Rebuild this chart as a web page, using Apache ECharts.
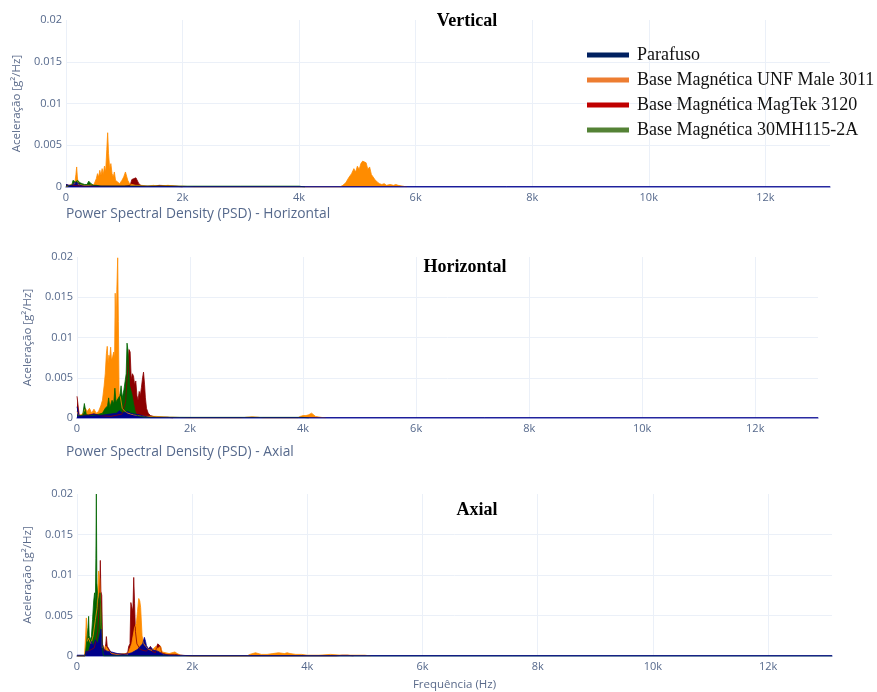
<!DOCTYPE html>
<html><head><meta charset="utf-8">
<script src="https://cdn.jsdelivr.net/npm/echarts@6/dist/echarts.min.js"></script>
<style>html,body{margin:0;padding:0;background:#fff}#c{width:877px;height:692px}</style>
</head><body><div id="c"></div>
<script>
// ---------- data (frequency Hz, PSD g²/Hz) ----------
const seriesNames = ['Parafuso', 'Base Magnética UNF Male 3011', 'Base Magnética MagTek 3120', 'Base Magnética 30MH115-2A'];
const panelTitles = ['Vertical', 'Horizontal', 'Axial'];
const sectionTitles = ['Power Spectral Density (PSD) - Horizontal', 'Power Spectral Density (PSD) - Axial'];
const xTicks = [0, 2000, 4000, 6000, 8000, 10000, 12000];
const yTicks = [0, 0.005, 0.01, 0.015, 0.02];

// Vertical
const vRed = [[0,0.0003],[40,0.0002],[100,0.0002],[300,0.0001],[600,0.0001],[1000,0.0001],[1100,0.0002],[1130,0.0009],[1160,0.0011],[1200,0.0011],[1230,0.001],[1250,0.0004],[1300,0.0001],[1500,0.0001],[1600,0.0002],[1900,0.0001],[2000,0]];
const vOrange = [[0,0],[80,0.0003],[150,0.0004],[170,0.0015],[183,0.0024],[195,0.0012],[210,0.0003],[300,0.0002],[400,0.0002],[480,0.0003],[520,0.001],[540,0.0016],[560,0.0012],[580,0.002],[600,0.0014],[620,0.0022],[640,0.0015],[660,0.0025],[680,0.0018],[700,0.0045],[715,0.0065],[730,0.004],[750,0.0022],[770,0.0028],[790,0.0016],[810,0.0012],[830,0.0018],[850,0.0008],[880,0.0006],[920,0.0004],[960,0.0008],[990,0.0012],[1020,0.0018],[1040,0.0013],[1060,0.0008],[1090,0.0004],[1130,0.0003],[1200,0.0002],[1300,0.0002],[1400,0.0001],[1500,0.0002],[1600,0.0001],[1750,0.0002],[1900,0.0001],[2000,0.0001],[2200,0],[4700,0],[4750,0.0002],[4800,0.0005],[4850,0.0011],[4900,0.0016],[4940,0.0022],[4970,0.0018],[5000,0.0025],[5030,0.0021],[5060,0.0028],[5090,0.0031],[5120,0.0032],[5150,0.0029],[5180,0.0021],[5210,0.0024],[5240,0.0015],[5270,0.0012],[5300,0.0009],[5340,0.0006],[5380,0.0004],[5420,0.0003],[5460,0.0004],[5500,0.0002],[5560,0.0003],[5620,0.0002],[5660,0.0003],[5700,0.0002],[5780,0.0001],[5850,0]];
const vGreen = [[0,0.0001],[100,0.0002],[120,0.0008],[140,0.0009],[160,0.0006],[200,0.0008],[240,0.0005],[280,0.0004],[320,0.0003],[360,0.0003],[390,0.0007],[410,0.0009],[430,0.0004],[470,0.0002],[520,0.0002],[600,0.0001],[1000,0.0001],[2000,0.0001],[3000,0.0001],[4000,0.0001],[4100,0]];
const vBlue = [[0,0.0003],[60,0.0002],[110,0.0002],[140,0.0005],[170,0.0004],[200,0.0005],[240,0.0002],[300,0.0001],[2000,0.00005],[13110,0.00005]];

// Horizontal
const hRed = [[0,0.0027],[20,0.0027],[40,0.0003],[200,0.0004],[300,0.0005],[400,0.0003],[600,0.0002],[800,0.0005],[860,0.002],[900,0.0065],[920,0.0085],[940,0.0082],[960,0.0048],[980,0.0055],[1000,0.0052],[1020,0.0041],[1040,0.0046],[1060,0.0028],[1080,0.0022],[1100,0.0033],[1120,0.0028],[1140,0.0038],[1160,0.005],[1177,0.0057],[1195,0.0042],[1210,0.0025],[1230,0.0012],[1260,0.0006],[1300,0.0003],[1400,0.0001],[1600,0.0001],[1700,0]];
const hOrange = [[0,0.0008],[30,0.0003],[100,0.0005],[150,0.0012],[180,0.0008],[220,0.0012],[260,0.0006],[300,0.0011],[340,0.0006],[380,0.0008],[420,0.0015],[450,0.0022],[480,0.004],[500,0.0055],[520,0.008],[535,0.0089],[550,0.0068],[565,0.0078],[580,0.0074],[595,0.0088],[610,0.0072],[630,0.0076],[650,0.0082],[665,0.0075],[676,0.0155],[690,0.0105],[705,0.016],[720,0.0199],[732,0.012],[745,0.003],[770,0.0025],[800,0.0012],[850,0.0008],[900,0.0006],[1000,0.0004],[1100,0.0003],[1200,0.0002],[1400,0.0002],[1600,0.0001],[1700,0.0001],[2000,0],[2900,0],[3000,0.0001],[3100,0.00015],[3200,0.0001],[3300,0],[3900,0],[3950,0.0002],[4000,0.0003],[4050,0.0003],[4100,0.0004],[4150,0.0006],[4180,0.0004],[4220,0.0002],[4300,0.0001],[4400,0]];
const hGreen = [[0,0.0003],[100,0.0003],[130,0.0018],[150,0.0018],[165,0.0004],[250,0.0003],[350,0.0004],[450,0.0006],[500,0.0012],[540,0.0015],[560,0.0025],[580,0.0013],[620,0.0022],[650,0.0018],[670,0.0037],[690,0.002],[720,0.0018],[760,0.0028],[780,0.004],[800,0.0025],[830,0.0035],[850,0.0045],[870,0.0055],[885,0.0093],[900,0.0085],[915,0.0065],[930,0.004],[950,0.004],[970,0.003],[1000,0.0018],[1030,0.0008],[1060,0.0003],[1200,0.0001],[2000,0.00008],[4000,0.00008],[4100,0]];
const hBlue = [[0,0.0014],[20,0.0014],[40,0.0002],[200,0.0003],[300,0.0005],[400,0.0003],[500,0.0004],[600,0.0005],[700,0.0006],[750,0.0009],[800,0.0006],[900,0.0008],[950,0.0006],[1000,0.0005],[1100,0.0004],[1200,0.0002],[1300,0.00005],[13110,0.00005]];

// Axial
const aRed = [[0,0],[140,0],[160,0.0005],[250,0.0008],[300,0.001],[360,0.003],[390,0.007],[405,0.0118],[415,0.008],[430,0.0075],[445,0.001],[480,0.0006],[500,0.0015],[510,0.0024],[525,0.0012],[560,0.0008],[600,0.0003],[800,0.0002],[880,0.0004],[898,0.0012],[920,0.0015],[935,0.0066],[950,0.0067],[970,0.0055],[985,0.0097],[1000,0.0065],[1015,0.003],[1040,0.0015],[1100,0.0008],[1200,0.0006],[1250,0.0009],[1275,0.0012],[1300,0.0006],[1333,0.0008],[1360,0.0004],[1385,0.0012],[1402,0.0015],[1430,0.0014],[1450,0.0012],[1470,0.0004],[1550,0.0002],[1700,0.0002],[1800,0.0001],[2000,0],[4500,0],[4600,0.0001],[4700,0.0001],[4800,0]];
const aOrange = [[0,0],[130,0],[150,0.0025],[162,0.0047],[175,0.0018],[200,0.0022],[240,0.0015],[280,0.0025],[320,0.0045],[350,0.006],[376,0.0105],[395,0.0095],[420,0.004],[440,0.001],[460,0.0013],[480,0.0008],[500,0.0012],[520,0.0013],[545,0.0007],[600,0.0003],[700,0.0002],[800,0.0003],[880,0.0002],[950,0.0015],[1000,0.0035],[1031,0.004],[1050,0.0055],[1072,0.0071],[1090,0.0068],[1105,0.006],[1130,0.0025],[1160,0.0015],[1190,0.0012],[1215,0.001],[1250,0.0008],[1300,0.0007],[1370,0.0012],[1400,0.0009],[1450,0.0012],[1480,0.0005],[1510,0.0004],[1600,0.0003],[1700,0.0005],[1740,0.0003],[1800,0.0001],[1900,0],[2950,0],[3000,0.0002],[3100,0.0004],[3200,0.0002],[3300,0.0002],[3400,0.0003],[3500,0.0004],[3600,0.0003],[3650,0.0004],[3700,0.0003],[3800,0.0002],[3900,0.0002],[4000,0.0001],[4200,0.0001],[4400,0.0002],[4600,0.0001],[5000,0.0001],[5100,0]];
const aGreen = [[0,0],[140,0],[160,0.0012],[190,0.0035],[202,0.0049],[212,0.0025],[230,0.002],[250,0.0024],[270,0.0045],[290,0.0068],[305,0.0078],[318,0.0065],[328,0.012],[336,0.02],[345,0.009],[360,0.0075],[380,0.0065],[400,0.0078],[420,0.005],[440,0.001],[460,0],[13110,0]];
const aBlue = [[0,0.0001],[140,0.0001],[160,0.0006],[200,0.0005],[250,0.0018],[280,0.0012],[320,0.002],[360,0.0015],[390,0.0025],[417,0.0033],[435,0.0015],[470,0.0008],[520,0.0006],[600,0.0005],[700,0.0003],[850,0.0002],[950,0.0004],[1050,0.0008],[1101,0.0012],[1140,0.0015],[1170,0.0023],[1190,0.0018],[1205,0.0013],[1240,0.0009],[1280,0.0011],[1330,0.0007],[1400,0.0006],[1500,0.0002],[1600,0.0001],[2000,0.00005],[13110,0.00005]];

const panelData = [
  [vBlue, vOrange, vRed, vGreen],
  [hBlue, hOrange, hRed, hGreen],
  [aBlue, aOrange, aRed, aGreen]
];

// ---------- styles ----------
const plotColors = ['#00008b', '#ff8c00', '#8b0000', '#006400'];
const legendColors = ['#002060', '#ed7d31', '#c00000', '#548235'];
const drawOrder = [2, 1, 3, 0]; // red, orange, green, blue (blue on top)
const grids = [
  {left: 66, top: 20, width: 764, height: 167},
  {left: 77, top: 257, width: 741, height: 161},
  {left: 77, top: 494, width: 755, height: 165}
];
const tickColor = '#56698c';
const gridColor = '#ebf0f8';

const xAxes = grids.map((g, i) => ({
  type: 'value', gridIndex: i, min: 0, max: 13110, interval: 2000,
  axisLine: {show: true, lineStyle: {color: '#7479c9', width: 1.5}},
  axisTick: {show: false},
  axisLabel: {color: tickColor, fontSize: 11, fontFamily: 'Open Sans', margin: 5, showMaxLabel: false,
    formatter: v => (xTicks.indexOf(v) < 0 ? '' : (v === 0 ? '0' : (v / 1000) + 'k'))},
  splitLine: {show: true, showMinLine: true, showMaxLine: false, lineStyle: {color: gridColor, width: 1}},
  name: i === 2 ? 'Frequência (Hz)' : '', nameLocation: 'middle', nameGap: 23,
  nameTextStyle: {color: '#5a6a8a', fontSize: 11.5, fontFamily: 'Open Sans'}
}));
const yAxes = grids.map((g, i) => ({
  type: 'value', gridIndex: i, min: 0, max: 0.02, interval: 0.005,
  axisLine: {show: false}, axisTick: {show: false},
  axisLabel: {color: tickColor, fontSize: 11, fontFamily: 'Open Sans', margin: 4,
    formatter: v => (yTicks.indexOf(+v.toFixed(4)) < 0 ? '' : (v === 0 ? '0' : String(+v.toFixed(4))))},
  splitLine: {show: true, showMinLine: false, showMaxLine: false, lineStyle: {color: gridColor, width: 1}},
  name: 'Aceleração [g²/Hz]', nameLocation: 'middle', nameRotate: 90, nameGap: i === 0 ? 43 : 41,
  nameTextStyle: {color: '#5a6a8a', fontSize: 11.5, fontFamily: 'Open Sans'}
}));

const series = [];
panelData.forEach((arrs, p) => {
  drawOrder.forEach(k => {
    series.push({
      name: seriesNames[k], type: 'line', xAxisIndex: p, yAxisIndex: p,
      data: arrs[k], showSymbol: false, symbol: 'none', silent: true,
      lineStyle: {color: plotColors[k], width: 0.8},
      itemStyle: {color: plotColors[k]},
      areaStyle: {color: plotColors[k], opacity: 1}
    });
  });
});

const titleXs = [467, 465, 477];
const titleYs = [21, 267, 510];
const graphics = panelTitles.map((t, i) => ({
  type: 'text', x: titleXs[i], y: titleYs[i], silent: true, z: 10,
  style: {text: t, fontFamily: '"Liberation Serif", serif', fontWeight: 'bold', fontSize: 18,
    fill: '#000', align: 'center', verticalAlign: 'middle'}
}));
const secYs = [214, 452];
sectionTitles.forEach((t, i) => graphics.push({
  type: 'text', x: 66, y: secYs[i], silent: true,
  style: {text: t, fontFamily: 'Open Sans', fontSize: 13.8, fill: '#56698c', align: 'left', verticalAlign: 'middle'}
}));

const chart = echarts.init(document.getElementById('c'));
chart.setOption({
  animation: false,
  backgroundColor: '#fff',
  grid: grids,
  xAxis: xAxes,
  yAxis: yAxes,
  legend: {
    orient: 'vertical', left: 587, top: 45, padding: 0, itemWidth: 42, itemHeight: 5, itemGap: 5,
    icon: 'rect', selectedMode: false,
    textStyle: {fontFamily: '"Liberation Serif", serif', fontSize: 18, color: '#111', lineHeight: 20, padding: [0, 0, 0, 3]},
    data: seriesNames.map((n, k) => ({name: n, icon: 'rect', itemStyle: {color: legendColors[k]}}))
  },
  graphic: graphics,
  series: series
});
</script></body></html>
